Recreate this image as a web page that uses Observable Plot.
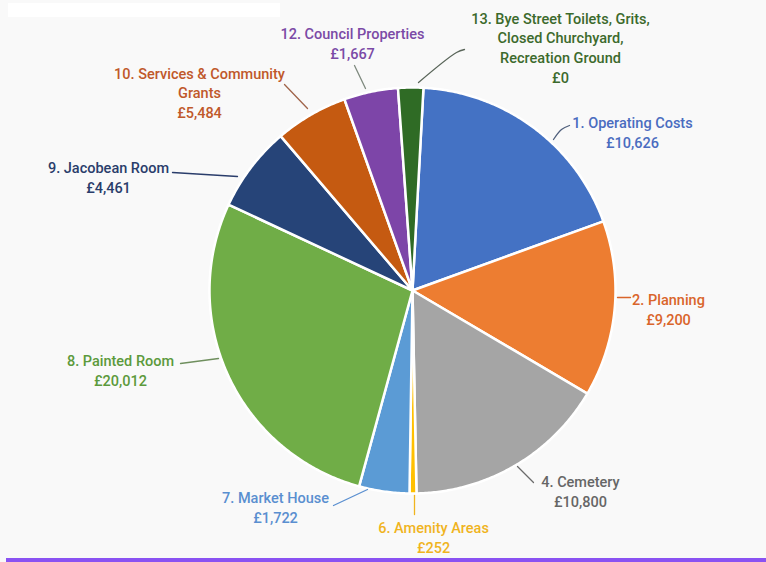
<!DOCTYPE html>
<html>
<head>
<meta charset="utf-8">
<script src="https://cdn.jsdelivr.net/npm/d3@7"></script>
<script src="https://cdn.jsdelivr.net/npm/@observablehq/plot@0.6"></script>
<style>
  html, body { margin: 0; padding: 0; background: #f9f9f9; width: 766px; height: 562px; overflow: hidden; }
  #chart { position: absolute; left: 0; top: 0; }
  #topstrip { position: absolute; left: 8px; top: 3px; width: 272px; height: 14px; background: #ffffff; }
  #bottombar { position: absolute; left: 6px; top: 558px; width: 760px; height: 4px; background: #8a52f2; }
</style>
</head>
<body>
<div id="topstrip"></div>
<div id="chart"></div>
<div id="bottombar"></div>
<script>
// ---- data ----
const categories = [
  "1. Operating Costs",
  "2. Planning",
  "4. Cemetery",
  "6. Amenity Areas",
  "7. Market House",
  "8. Painted Room",
  "9. Jacobean Room",
  "10. Services & Community\nGrants",
  "12. Council Properties",
  "13. Bye Street Toilets, Grits,\nClosed Churchyard,\nRecreation Ground"
];
const amounts = [10626, 9200, 10800, 252, 1722, 20012, 4461, 5484, 1667, 0];
// share of the circle (%) for each slice
const sliceShare = [18.6, 14.0, 16.2, 0.55, 4.0, 27.7, 6.8, 5.8, 4.3, 2.0];

// ---- styles ----
const sliceColors = ["#4472c4", "#ed7d31", "#a5a5a5", "#ffc000", "#5b9bd5", "#70ad47", "#264478", "#c55a11", "#7d45a8", "#2f6b25"];
const textColors  = ["#4a6cc0", "#d9652b", "#666666", "#f0b41e", "#5a8fd0", "#5c9a3c", "#2a3d6b", "#c0582a", "#7b4aa6", "#3c6a2c"];
const leaderColors = ["#4f5f7c", "#d9652b", "#6b6b6b", "#f0b41e", "#5a8fd0", "#6f8f5e", "#2a3d6b", "#a0644a", "#7f8a7f", "#5a665a"];

// ---- layout (pixel offsets from pie centre) ----
const W = 766, H = 562, CX = 412, CY = 290, R = 203;
const startDeg = 3.1;
const labelPos = [[220, -158.5], [256, 18], [168, 200], [21, 246], [-137, 216.5], [-292, 79.5], [-304, -114], [-213, -198.5], [-60, -247.5], [148, -243.5]];
const leaderPts = [
  [[141, -151], [149, -161], [157, -165]],
  [[205, 7], [218, 7]],
  [[105, 176], [121, 192]],
  [[2, 205], [2, 224]],
  [[-45, 199], [-79, 215]],
  [[-194, 68], [-232, 73]],
  [[-175, -114], [-240, -118]],
  [[-105, -182], [-128, -206]],
  [[-47, -202], [-58, -225]],
  [[6, -208], [44, -238], [52, -241]]
];

const rad = d => d * Math.PI / 180;
const pie = d3.pie().sort(null).value(d => d.share)
  .startAngle(rad(startDeg)).endAngle(rad(startDeg + 360));
const rows = categories.map((c, i) => ({key: c, amount: amounts[i], share: sliceShare[i], i}));
const arcs = pie(rows);

// polygon points of each slice in pie units (y downwards)
const slicePts = [];
arcs.forEach(a => {
  const k = a.data.key;
  slicePts.push({key: k, x: 0, y: 0});
  const n = Math.max(2, Math.ceil((a.endAngle - a.startAngle) / rad(0.5)));
  for (let j = 0; j <= n; j++) {
    const t = a.startAngle + (a.endAngle - a.startAngle) * j / n;
    slicePts.push({key: k, x: Math.sin(t), y: -Math.cos(t)});
  }
  slicePts.push({key: k, x: 0, y: 0});
});

const leaderData = [];
leaderPts.forEach((pts, i) => pts.forEach(p => leaderData.push({key: categories[i], i, x: p[0] / R, y: p[1] / R})));

const fmt = d3.format(",");
const labelData = rows.map((r, i) => ({
  text: r.key + "\n£" + fmt(r.amount),
  x: labelPos[i][0] / R, y: labelPos[i][1] / R, color: textColors[i]
}));

const font = "Roboto, 'Noto Sans', sans-serif";

const chart = Plot.plot({
  width: W, height: H,
  margin: 0,
  x: {domain: [-CX / R, (W - CX) / R], range: [0, W], axis: null},
  y: {domain: [-CY / R, (H - CY) / R], range: [0, H], axis: null},
  color: {domain: categories, range: sliceColors},
  style: {background: "transparent", overflow: "visible"},
  marks: [
    Plot.line(slicePts, {x: "x", y: "y", z: "key", fill: "key", stroke: "#ffffff", strokeWidth: 2.5, strokeLinejoin: "round", curve: "linear"}),
    Plot.line(leaderData, {x: "x", y: "y", z: "key", stroke: d => leaderColors[d.i], strokeWidth: 1.3, curve: "catmull-rom"}),
    Plot.text(labelData, {x: "x", y: "y", text: "text", fill: d => d.color, fontSize: 14.5, fontWeight: 500, fontFamily: font, lineHeight: 1.35, lineAnchor: "middle", textAnchor: "middle"})
  ]
});
document.getElementById("chart").appendChild(chart);
</script>
</body>
</html>
